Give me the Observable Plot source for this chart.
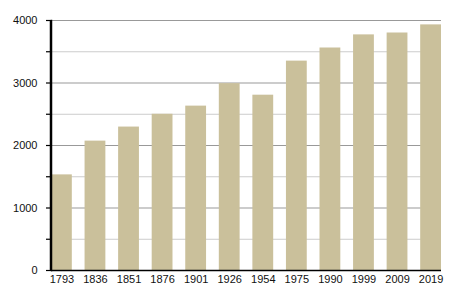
<!DOCTYPE html>
<html>
<head>
<meta charset="utf-8">
<script src="https://cdn.jsdelivr.net/npm/d3@7"></script>
<script src="https://cdn.jsdelivr.net/npm/@observablehq/plot@0.6"></script>
<style>
  html, body { margin: 0; padding: 0; background: #fff; }
  #chart svg { display: block; }
</style>
</head>
<body>
<div id="chart"></div>
<script>
const years = ["1793","1836","1851","1876","1901","1926","1954","1975","1990","1999","2009","2019"];
const population = [1530, 2070, 2295, 2500, 2630, 2990, 2805, 3350, 3560, 3770, 3800, 3930];
const majorTicks = [0, 1000, 2000, 3000, 4000];
const minorTicks = [500, 1500, 2500, 3500];
const allTicks = [0, 500, 1000, 1500, 2000, 2500, 3000, 3500, 4000];

const data = years.map((y, i) => ({year: y, value: population[i]}));

const marginLeft = 51;

const chart = Plot.plot({
  width: 450,
  height: 300,
  marginLeft: marginLeft,
  marginRight: 9,
  marginTop: 20,
  marginBottom: 30,
  style: {fontFamily: "'Liberation Sans', Arial, Helvetica, sans-serif", fontSize: "11px", color: "#000", background: "#fff"},
  x: {domain: years, paddingInner: 0.38, paddingOuter: 0, round: false, label: null},
  y: {domain: [0, 4000], label: null},
  marks: [
    Plot.ruleY(minorTicks, {stroke: "#cccccc", strokeWidth: 1}),
    Plot.ruleY(majorTicks.filter(d => d > 0), {stroke: "#999999", strokeWidth: 1.2}),
    Plot.barY(data, {x: "year", y: "value", fill: "#cac09b"}),
    Plot.ruleY([0], {stroke: "#000", strokeWidth: 1.5}),
    Plot.frame({anchor: "left", stroke: "#000", strokeOpacity: 1, strokeWidth: 1.5}),
    Plot.axisY({ticks: allTicks, tickSize: 5, tickPadding: 9, tickFormat: d => d % 1000 === 0 ? String(d) : "", label: null, stroke: "#000", strokeWidth: 1.2, strokeOpacity: 1, fill: "#111"}),
    Plot.axisX({tickSize: 0, tickPadding: 5, label: null, fill: "#111"})
  ]
});

// y-axis line along the left edge of the plotting area, using the chart's y scale
const ys = chart.scale("y");
const yScale = d3.scaleLinear().domain(ys.domain).range(ys.range);
const svg = chart.tagName.toLowerCase() === "svg" ? chart : chart.querySelector("svg");
d3.select(svg).append("line")
  .attr("x1", marginLeft - 0.5).attr("x2", marginLeft - 0.5)
  .attr("y1", yScale(0) + 0.75).attr("y2", yScale(4000))
  .attr("stroke", "#000").attr("stroke-width", 1.5);

document.getElementById("chart").appendChild(chart);
</script>
</body>
</html>
